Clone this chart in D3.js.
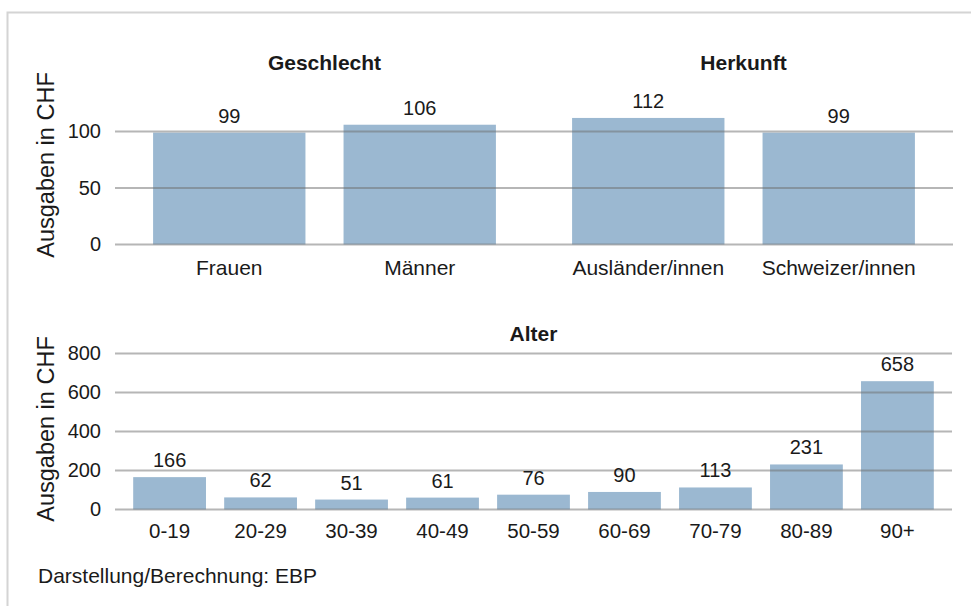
<!DOCTYPE html>
<html>
<head>
<meta charset="utf-8">
<script src="https://cdn.jsdelivr.net/npm/d3@7"></script>
<style>
  html, body { margin: 0; padding: 0; background: #fff; }
  svg { display: block; font-family: "Liberation Sans", Arial, Helvetica, sans-serif; }
</style>
</head>
<body>
<svg id="chart" width="971" height="606"></svg>
<script>
// ---- Data ----
const geschlechtCategories = ["Frauen", "Männer"];
const geschlechtValues = [99, 106];
const herkunftCategories = ["Ausländer/innen", "Schweizer/innen"];
const herkunftValues = [112, 99];
const alterCategories = ["0-19", "20-29", "30-39", "40-49", "50-59", "60-69", "70-79", "80-89", "90+"];
const alterValues = [166, 62, 51, 61, 76, 90, 113, 231, 658];
const topTicks = [0, 50, 100];
const bottomTicks = [0, 200, 400, 600, 800];
const panelTitles = ["Geschlecht", "Herkunft", "Alter"];
const yAxisTitle = "Ausgaben in CHF";
const sourceNote = "Darstellung/Berechnung: EBP";

// ---- Styles ----
const barColor = "#9bb8d1";
const gridColor = "rgba(110,110,110,0.5)";
const textColor = "#1a1a1a";
const numSize = 20;
const textSize = 21;

const svg = d3.select("#chart");

// frame
svg.append("rect")
  .attr("x", 7.5).attr("y", 12.5)
  .attr("width", 980).attr("height", 620)
  .attr("fill", "none").attr("stroke", "#d4d4d4").attr("stroke-width", 2);

function drawPanel(cfg) {
  const g = svg.append("g");
  const x = d3.scaleBand().domain(cfg.categories).range([cfg.x0, cfg.x1])
    .paddingInner(0.2).paddingOuter(0.2);
  const y = cfg.y;

  // bars
  g.selectAll("rect.bar").data(cfg.values).join("rect")
    .attr("class", "bar")
    .attr("x", (d, i) => x(cfg.categories[i]))
    .attr("width", x.bandwidth())
    .attr("y", d => y(d))
    .attr("height", d => y(0) - y(d))
    .attr("fill", barColor);

  // gridlines on top
  g.selectAll("line.grid").data(cfg.ticks).join("line")
    .attr("class", "grid")
    .attr("x1", cfg.x0).attr("x2", cfg.x1)
    .attr("y1", d => y(d)).attr("y2", d => y(d))
    .attr("stroke", gridColor).attr("stroke-width", 2);

  // value labels
  g.selectAll("text.val").data(cfg.values).join("text")
    .attr("class", "val")
    .attr("x", (d, i) => x(cfg.categories[i]) + x.bandwidth() / 2)
    .attr("y", d => y(d) - 10)
    .attr("text-anchor", "middle")
    .attr("font-size", numSize)
    .attr("fill", textColor)
    .text(d => d);

  // category axis
  const xAxis = d3.axisBottom(x).tickSize(0).tickPadding(0);
  const ax = g.append("g").attr("transform", `translate(0,${y(0)})`).call(xAxis);
  ax.select(".domain").remove();
  ax.selectAll("text")
    .attr("font-size", cfg.labelSize)
    .attr("font-family", "Liberation Sans, Arial, sans-serif")
    .attr("fill", textColor)
    .attr("dy", null)
    .attr("y", cfg.labelOffset);

  // title
  g.append("text")
    .attr("x", (cfg.x0 + cfg.x1) / 2)
    .attr("y", cfg.titleY)
    .attr("text-anchor", "middle")
    .attr("font-size", textSize)
    .attr("font-weight", "bold")
    .attr("fill", textColor)
    .text(cfg.title);
}

function drawYAxis(y, ticks, labelCenterY) {
  const axis = d3.axisLeft(y).tickValues(ticks).tickSize(0).tickPadding(0);
  const ag = svg.append("g").attr("transform", "translate(101,0)").call(axis);
  ag.select(".domain").remove();
  ag.selectAll("text")
    .attr("font-size", numSize)
    .attr("font-family", "Liberation Sans, Arial, sans-serif")
    .attr("fill", textColor);
  svg.append("text")
    .attr("transform", `translate(54,${labelCenterY}) rotate(-90)`)
    .attr("text-anchor", "middle")
    .attr("font-size", 23.5)
    .attr("fill", textColor)
    .text(yAxisTitle);
}

// ---- Top row ----
const yTop = d3.scaleLinear().domain([0, 100]).range([244.5, 131.5]);
drawPanel({ categories: geschlechtCategories, values: geschlechtValues, x0: 115, x1: 534,
  y: yTop, ticks: topTicks, title: panelTitles[0], titleY: 70, labelOffset: 30.5, labelSize: textSize });
drawPanel({ categories: herkunftCategories, values: herkunftValues, x0: 534, x1: 953,
  y: yTop, ticks: topTicks, title: panelTitles[1], titleY: 70, labelOffset: 30.5, labelSize: textSize });
drawYAxis(yTop, topTicks, 165);

// ---- Bottom row ----
const yBottom = d3.scaleLinear().domain([0, 800]).range([509.5, 353.5]);
drawPanel({ categories: alterCategories, values: alterValues, x0: 115, x1: 952,
  y: yBottom, ticks: bottomTicks, title: panelTitles[2], titleY: 341, labelOffset: 28.5, labelSize: textSize - 0.5 });
drawYAxis(yBottom, bottomTicks, 429);

// ---- Source note ----
svg.append("text")
  .attr("x", 38).attr("y", 583)
  .attr("font-size", textSize)
  .attr("fill", textColor)
  .text(sourceNote);
</script>
</body>
</html>
